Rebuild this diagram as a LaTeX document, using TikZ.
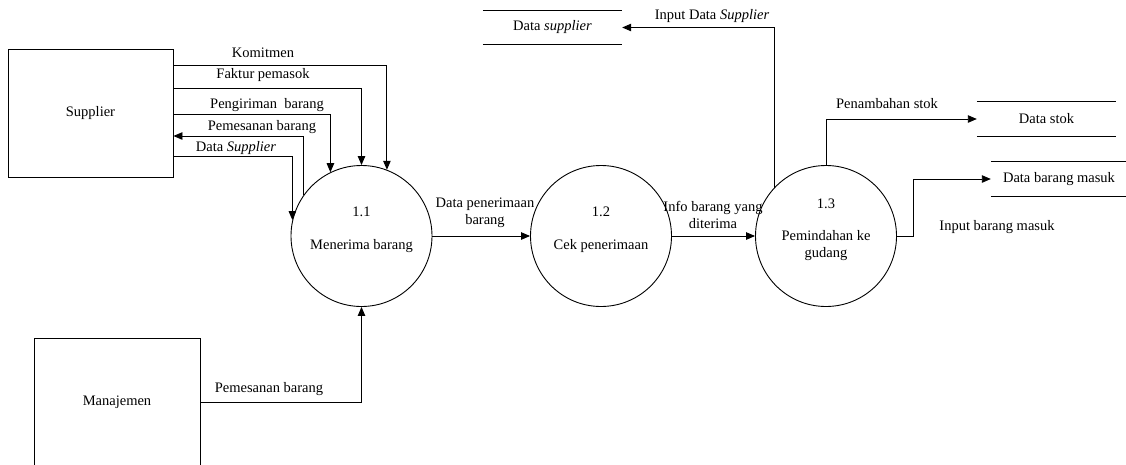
\documentclass[tikz,border=0pt]{standalone}
\usepackage{fontspec}
\setmainfont{Liberation Serif}
\usetikzlibrary{arrows.meta,calc}
\begin{document}
\begin{tikzpicture}[x=1pt,y=-1pt,
  font=\fontsize{14.5}{17}\selectfont,
  flow/.style={draw=black,line width=0.9pt,-{Triangle[length=9pt,width=7.5pt]}},
  entity/.style={draw,line width=0.9pt,minimum width=165pt,minimum height=128pt,inner sep=0pt},
  proc/.style={draw,circle,line width=0.9pt,minimum size=141pt,inner sep=0pt},
  store/.style={minimum width=139pt,minimum height=34pt,inner sep=0pt},
  storeline/.style={line width=0.9pt},
  lbl/.style={inner sep=0pt,align=center}]
\useasboundingbox (0,0) rectangle (1126,464);

% external entities
\node[entity] (sup) at (90.5,113) {Supplier};
\node[entity,minimum width=166pt] (man) at (117,402) {Manajemen};

% processes
\node[proc] (p11) at (361.5,236) {};
\node[proc] (p12) at (601,236) {};
\node[proc] (p13) at (826,236) {};
\node[lbl] (t11a) at (361.5,212) {1.1};
\node[lbl] (t11b) at (361.5,246) {Menerima barang};
\node[lbl] (t12a) at (601,212) {1.2};
\node[lbl] (t12b) at (601,246) {Cek penerimaan};
\node[lbl] (t13a) at (826,204) {1.3};
\node[lbl] (t13b) at (826,246) {Pemindahan ke\\gudang};

% data stores
\node[store] (dsup) at (552.5,27.5) {Data \textit{supplier}};
\node[store] (dstok) at (1046.5,119) {Data stok};
\node[store,minimum width=136pt] (dbm) at (1059,179) {Data barang masuk};
\foreach \s in {dsup,dstok,dbm}{
  \draw[storeline] (\s.north west) -- (\s.north east) (\s.south west) -- (\s.south east);
}

% flows between supplier and process 1.1
\draw[flow] (sup.east |- 0,65) -| (p11.69);
\draw[flow] (sup.east |- 0,88) -| (p11.90);
\draw[flow] (sup.east |- 0,114) -| (p11.116);
\draw[flow] (p11.145) |- (sup.east |- 0,136);
\draw[flow] (sup.east |- 0,156) -| (p11.167);
\node[lbl] (lkom) at (263,53) {Komitmen};
\node[lbl] (lfak) at (263,75) {Faktur pemasok};
\node[lbl] (lpeng) at (267,105) {Pengiriman\ \ barang};
\node[lbl] (lpem) at (262,127) {Pemesanan barang};
\node[lbl] (ldsup) at (236,148) {Data \textit{Supplier}};

% management order
\draw[flow] (man.east) -| (p11.south);
\node[lbl] (lpem2) at (269,389) {Pemesanan barang};

% process chain
\draw[flow] (p11.east) -- (p12.west);
\draw[flow] (p12.east) -- (p13.west);
\node[lbl] (ldpb) at (485,213) {Data penerimaan\\barang};
\node[lbl] (libd) at (713,215) {Info barang yang\\diterima};

% flows out of process 1.3
\draw[flow] (p13.137) |- (dsup.east);
\draw[flow] (p13.north) |- (dstok.west);
\draw[flow] (p13.east) -- ++(16,0) |- (dbm.west);
\node[lbl] (lids) at (712,16) {Input Data \textit{Supplier}};
\node[lbl] (lps) at (887,104) {Penambahan stok};
\node[lbl] (libm) at (997,227) {Input barang masuk};
\end{tikzpicture}
\end{document}
